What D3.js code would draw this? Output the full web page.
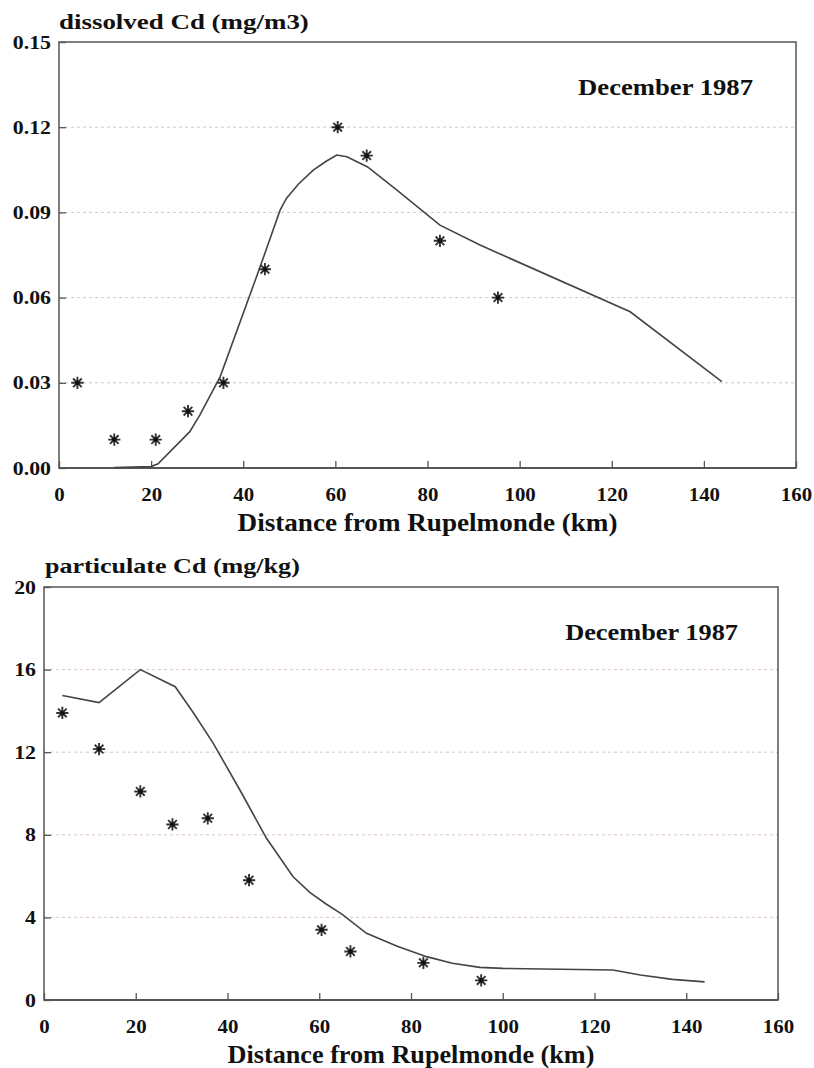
<!DOCTYPE html>
<html><head><meta charset="utf-8">
<script src="https://cdn.jsdelivr.net/npm/d3@7"></script>
<style>
body{margin:0;background:#fff}
text{font-family:"Liberation Serif","Times New Roman",serif;font-weight:bold;fill:#111}
</style>
</head><body>
<svg id="c" width="814" height="1068"></svg>
<script>
// ---- data ----
const stationKm = [4, 12, 21, 28, 35.7, 44.7, 60.5, 66.8, 82.7, 95.3];
const dissolvedObs = [0.03, 0.01, 0.01, 0.02, 0.03, 0.07, 0.12, 0.11, 0.08, 0.06];
const particulateObs = [13.9, 12.15, 10.1, 8.5, 8.8, 5.8, 3.4, 2.35, 1.8, 0.95];

const dissolvedModelKm = [12, 20, 21.5, 28.4, 30.6, 35, 42.9, 44.7, 48, 49.4, 52, 55.2, 58, 60.3, 62.5, 67, 73.3, 82.7, 91.4, 124, 143.9];
const dissolvedModel = [0.0002, 0.0005, 0.0015, 0.0128, 0.0187, 0.0322, 0.0674, 0.0756, 0.0908, 0.095, 0.1, 0.1049, 0.108, 0.1102, 0.1096, 0.106, 0.0979, 0.0855, 0.0785, 0.055, 0.0304];

const particulateModelKm = [4, 12, 21, 28.6, 32.6, 36.9, 42.7, 48.5, 54.3, 58, 61.5, 65, 70.3, 77, 83.4, 89, 95, 100, 124, 130, 137, 144];
const particulateModel = [14.75, 14.4, 16.0, 15.17, 13.9, 12.43, 10.17, 7.83, 5.97, 5.2, 4.65, 4.15, 3.23, 2.6, 2.1, 1.78, 1.58, 1.53, 1.45, 1.21, 1.0, 0.88];

const xTickValues = [0, 20, 40, 60, 80, 100, 120, 140, 160];
const dissolvedTicks = [0, 0.03, 0.06, 0.09, 0.12, 0.15];
const particulateTicks = [0, 4, 8, 12, 16, 20];

const xTitle = "Distance from Rupelmonde (km)";
const dateLabel = "December 1987";

// ---- layout ----
const panels = [
  {left:59, right:796, top:42, bottom:468, yMax:0.15, ticks:dissolvedTicks, fmt:d3.format(".2f"),
   title:"dissolved Cd (mg/m3)", titleX:59, titleBase:29, titleW:250,
   xTitleBase:531, xTitleW:380, decRight:753, decBase:95, decW:175,
   obs:dissolvedObs, mx:dissolvedModelKm, my:dissolvedModel},
  {left:44, right:778, top:587, bottom:1000, yMax:20, ticks:particulateTicks, fmt:d3.format("d"),
   title:"particulate Cd (mg/kg)", titleX:45, titleBase:573, titleW:255,
   xTitleBase:1063, xTitleW:367, decRight:738, decBase:640, decW:173,
   obs:particulateObs, mx:particulateModelKm, my:particulateModel}
];

const FONT = '"Liberation Serif","Times New Roman",serif';
const svg = d3.select("#c");
svg.append("rect").attr("width",814).attr("height",1068).attr("fill","#fff");

function fitText(g, str, x, y, w, size, anchor){
  const t = g.append("text").attr("x",0).attr("y",0).attr("font-size",size)
    .attr("font-family",FONT).attr("font-weight","bold")
    .attr("text-anchor",anchor).text(str);
  const n = t.node().getComputedTextLength();
  t.attr("transform",`translate(${x},${y}) scale(${w/n},1)`);
  return t;
}

const star = {
  draw(ctx, size){
    const r = Math.sqrt(size)/2;
    for(let i=0;i<4;i++){
      const a = i*Math.PI/4;
      ctx.moveTo(r*Math.cos(a), r*Math.sin(a));
      ctx.lineTo(-r*Math.cos(a), -r*Math.sin(a));
    }
  }
};

panels.forEach(p=>{
  const g = svg.append("g");
  const x = d3.scaleLinear().domain([0,160]).range([p.left,p.right]);
  const y = d3.scaleLinear().domain([0,p.yMax]).range([p.bottom,p.top]);

  // grid
  g.append("g").selectAll("line").data(p.ticks.slice(1,-1)).join("line")
    .attr("x1",p.left).attr("x2",p.right).attr("y1",d=>y(d)).attr("y2",d=>y(d))
    .attr("stroke","#dcc4c4").attr("stroke-width",1).attr("stroke-dasharray","3,3");

  // axes
  const ya = g.append("g").attr("transform",`translate(${p.left},0)`)
    .call(d3.axisLeft(y).tickValues(p.ticks).tickFormat(p.fmt).tickSize(-7).tickPadding(8));
  const xa = g.append("g").attr("transform",`translate(0,${p.bottom})`)
    .call(d3.axisBottom(x).tickValues(xTickValues).tickFormat(d3.format("d")).tickSize(-7).tickPadding(20));
  [ya,xa].forEach(a=>{
    a.attr("font-family",FONT);
    a.select(".domain").remove();
    a.selectAll(".tick line").attr("stroke","#555").attr("stroke-width",1.3);
    a.selectAll(".tick text").attr("font-size",19).attr("font-family",FONT).attr("font-weight","bold").attr("fill","#111");
  });
  ya.selectAll(".tick text").each(function(){
    d3.select(this).attr("transform","translate(-8,0) scale(1.15,1)").attr("x",0);
  });
  xa.selectAll(".tick text").each(function(){
    d3.select(this).attr("transform","translate(0,20) scale(1.1,1)").attr("y",0);
  });

  // box
  g.append("rect").attr("x",p.left).attr("y",p.top).attr("width",p.right-p.left).attr("height",p.bottom-p.top)
    .attr("fill","none").attr("stroke","#555").attr("stroke-width",1.5);
  g.append("line").attr("x1",p.left).attr("x2",p.right).attr("y1",p.bottom).attr("y2",p.bottom)
    .attr("stroke","#555").attr("stroke-width",2.2);

  // model line
  const line = d3.line().x(d=>x(d[0])).y(d=>y(d[1]));
  g.append("path").datum(p.mx.map((v,i)=>[v,p.my[i]])).attr("d",line)
    .attr("fill","none").attr("stroke","#444").attr("stroke-width",1.6);

  // observations
  const pts = g.append("g").selectAll("g").data(stationKm.map((v,i)=>[v,p.obs[i]])).join("g")
    .attr("transform",d=>`translate(${x(d[0])},${y(d[1])})`);
  pts.append("path").attr("d",d3.symbol().type(star).size(150))
    .attr("stroke","#333").attr("stroke-width",1.9).attr("fill","none");
  pts.append("circle").attr("r",2.3).attr("fill","#111");

  // texts
  fitText(g, p.title, p.titleX, p.titleBase, p.titleW, 22, "start");
  fitText(g, xTitle, (p.left+p.right)/2, p.xTitleBase, p.xTitleW, 25, "middle");
  fitText(g, dateLabel, p.decRight, p.decBase, p.decW, 24, "end");
});
</script>
</body></html>
